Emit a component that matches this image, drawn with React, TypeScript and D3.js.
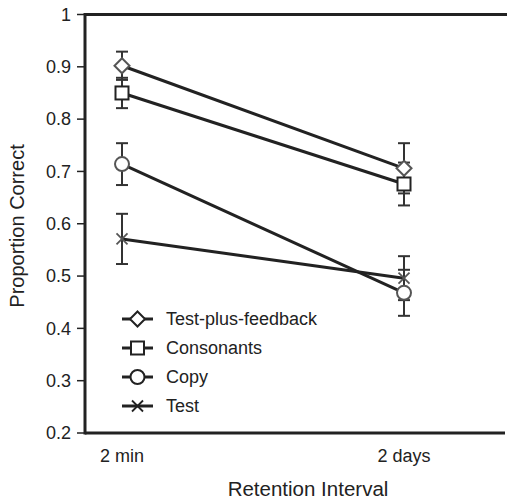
import * as d3 from "d3";
import React from "react";

// data
const intervals = ["2 min", "2 days"];
const seriesNames = ["Test-plus-feedback", "Consonants", "Copy", "Test"];
const markers = ["diamond", "square", "circle", "cross"];
const tpfValues = [0.902, 0.706];
const tpfErr = [0.027, 0.048];
const consValues = [0.850, 0.676];
const consErr = [0.029, 0.041];
const copyValues = [0.714, 0.468];
const copyErr = [0.04, 0.044];
const testValues = [0.571, 0.496];
const testErr = [0.048, 0.042];
const yTicks = [0.2, 0.3, 0.4, 0.5, 0.6, 0.7, 0.8, 0.9, 1];

const W = 507, H = 500;
const font = "'Liberation Sans', Arial, sans-serif";

function Marker({ type, x, y, stroke }) {
  if (type === "diamond") {
    const s = 7.5;
    return <path d={`M${x},${y - s}L${x + s},${y}L${x},${y + s}L${x - s},${y}Z`} fill="#fff" stroke={stroke} strokeWidth={2} />;
  }
  if (type === "square") {
    return <rect x={x - 6.5} y={y - 6.5} width={13} height={13} fill="#fff" stroke={stroke} strokeWidth={2} />;
  }
  if (type === "circle") {
    return <circle cx={x} cy={y} r={7} fill="#fff" stroke={stroke} strokeWidth={2} />;
  }
  const s = 5.5;
  return (
    <g stroke={stroke} strokeWidth={1.8}>
      <line x1={x - s} y1={y - s} x2={x + s} y2={y + s} />
      <line x1={x - s} y1={y + s} x2={x + s} y2={y - s} />
    </g>
  );
}

export default function App() {
  const y = d3.scaleLinear().domain([0.2, 1]).range([433, 14.5]);
  const x = d3.scalePoint().domain(intervals).range([122, 404]);
  const series = [
    { name: seriesNames[0], vals: tpfValues, err: tpfErr, marker: markers[0], mc: "#555" },
    { name: seriesNames[1], vals: consValues, err: consErr, marker: markers[1], mc: "#222" },
    { name: seriesNames[2], vals: copyValues, err: copyErr, marker: markers[2], mc: "#555" },
    { name: seriesNames[3], vals: testValues, err: testErr, marker: markers[3], mc: "#555" },
  ];
  const line = d3.line<number>().x((d, i) => x(intervals[i])).y(d => y(d));
  const axisX = 85;
  const legendY = d3.scaleLinear().domain([0, 3]).range([319, 406]);

  return (
    <svg width={W} height={H} style={{ position: "absolute", left: 0, top: 0 }} fontFamily={font}>
      <rect width={W} height={H} fill="#fff" />
      {/* frame */}
      <line x1={axisX} y1={14.5} x2={W} y2={14.5} stroke="#222" strokeWidth={3} />
      <line x1={axisX} y1={433} x2={505} y2={433} stroke="#222" strokeWidth={3} />
      <line x1={axisX} y1={13} x2={axisX} y2={434.5} stroke="#222" strokeWidth={3} />
      {yTicks.map(t => (
        <g key={t}>
          <line x1={axisX - 8} x2={axisX} y1={y(t)} y2={y(t)} stroke="#222" strokeWidth={1.5} />
          <text x={71} y={y(t)} dy="0.35em" textAnchor="end" fontSize={18} fill="#222">
            {t === 1 ? "1" : t.toFixed(1)}
          </text>
        </g>
      ))}
      {intervals.map(c => (
        <text key={c} x={x(c)} y={462} textAnchor="middle" fontSize={18} fill="#222">{c}</text>
      ))}
      <text x={308} y={496} textAnchor="middle" fontSize={20.5} fill="#222">Retention Interval</text>
      <text transform={`translate(24,${226}) rotate(-90)`} textAnchor="middle" fontSize={20} fill="#222">Proportion Correct</text>

      {/* error bars */}
      {series.map(s => s.vals.map((v, i) => {
        const cx = x(intervals[i]);
        const y0 = y(v - s.err[i]), y1 = y(v + s.err[i]);
        return (
          <g key={s.name + i} stroke="#333" strokeWidth={2}>
            <line x1={cx} x2={cx} y1={y0} y2={y1} />
            <line x1={cx - 6} x2={cx + 6} y1={y0} y2={y0} />
            <line x1={cx - 6} x2={cx + 6} y1={y1} y2={y1} />
          </g>
        );
      }))}
      {/* lines */}
      {series.map(s => (
        <path key={s.name} d={line(s.vals)} fill="none" stroke="#222" strokeWidth={3} />
      ))}
      {/* markers */}
      {series.map(s => s.vals.map((v, i) => (
        <Marker key={s.name + i} type={s.marker} x={x(intervals[i])} y={y(v)} stroke={s.mc} />
      )))}

      {/* legend */}
      {series.map((s, i) => (
        <g key={s.name}>
          <line x1={122} x2={153} y1={legendY(i)} y2={legendY(i)} stroke="#222" strokeWidth={3} />
          <Marker type={s.marker} x={137.5} y={legendY(i)} stroke="#222" />
          <text x={166} y={legendY(i)} dy="0.36em" fontSize={18} fill="#222">{s.name}</text>
        </g>
      ))}
    </svg>
  );
}
